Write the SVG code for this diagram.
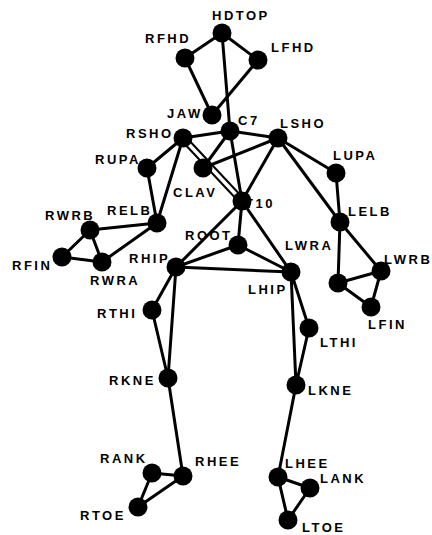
<svg xmlns="http://www.w3.org/2000/svg" width="432" height="535" viewBox="0 0 432 535">
<style>
.e line{stroke:#000;stroke-width:3;stroke-linecap:round}
.e line.thin{stroke-width:2}
.n circle{fill:#000}
text{font-family:"Liberation Sans",Arial,sans-serif;font-weight:bold;font-size:13px;letter-spacing:2.5px;fill:#000}
</style>
<rect width="432" height="535" fill="#fff"/>
<g id="connectors" class="e">
<line x1="222" y1="33" x2="185" y2="58"/>
<line x1="222" y1="33" x2="258" y2="60"/>
<line x1="185" y1="58" x2="212" y2="115"/>
<line x1="258" y1="60" x2="212" y2="115"/>
<line x1="222" y1="33" x2="230" y2="131"/>
<line x1="230" y1="131" x2="242" y2="201"/>
<line x1="230" y1="131" x2="183" y2="138"/>
<line x1="230" y1="131" x2="278" y2="138"/>
<line x1="230" y1="131" x2="203" y2="168"/>
<line x1="278" y1="138" x2="203" y2="168"/>
<line x1="183" y1="138" x2="147" y2="168"/>
<line x1="183" y1="138" x2="157" y2="223"/>
<line class="thin" x1="185" y1="136" x2="244" y2="199"/>
<line class="thin" x1="181" y1="140" x2="240" y2="203"/>
<line x1="278" y1="138" x2="242" y2="201"/>
<line x1="278" y1="138" x2="336" y2="173"/>
<line x1="278" y1="138" x2="340" y2="222"/>
<line x1="336" y1="173" x2="340" y2="222"/>
<line x1="147" y1="168" x2="157" y2="223"/>
<line x1="157" y1="223" x2="90" y2="230"/>
<line x1="157" y1="223" x2="102" y2="262"/>
<line x1="90" y1="230" x2="62" y2="257"/>
<line x1="90" y1="230" x2="102" y2="262"/>
<line x1="62" y1="257" x2="102" y2="262"/>
<line x1="340" y1="222" x2="338" y2="283"/>
<line x1="340" y1="222" x2="381" y2="271"/>
<line x1="338" y1="283" x2="381" y2="271"/>
<line x1="338" y1="283" x2="371" y2="307"/>
<line x1="381" y1="271" x2="371" y2="307"/>
<line x1="242" y1="201" x2="238" y2="245"/>
<line x1="242" y1="201" x2="176" y2="267"/>
<line x1="242" y1="201" x2="291" y2="272"/>
<line x1="238" y1="245" x2="176" y2="267"/>
<line x1="238" y1="245" x2="291" y2="272"/>
<line x1="176" y1="267" x2="291" y2="272"/>
<line x1="176" y1="267" x2="152" y2="310"/>
<line x1="176" y1="267" x2="168" y2="378"/>
<line x1="152" y1="310" x2="168" y2="378"/>
<line x1="291" y1="272" x2="309" y2="328"/>
<line x1="291" y1="272" x2="296" y2="385"/>
<line x1="309" y1="328" x2="296" y2="385"/>
<line x1="168" y1="378" x2="183" y2="476"/>
<line x1="183" y1="476" x2="152" y2="473"/>
<line x1="183" y1="476" x2="138" y2="507"/>
<line x1="152" y1="473" x2="138" y2="507"/>
<line x1="296" y1="385" x2="278" y2="477"/>
<line x1="278" y1="477" x2="310" y2="488"/>
<line x1="278" y1="477" x2="288" y2="520"/>
<line x1="310" y1="488" x2="288" y2="520"/>
</g>
<g id="HDTOP" class="n"><circle cx="222" cy="33" r="9.5"/><text x="212" y="20">HDTOP</text></g>
<g id="RFHD" class="n"><circle cx="185" cy="58" r="9.5"/><text x="145" y="43">RFHD</text></g>
<g id="LFHD" class="n"><circle cx="258" cy="60" r="9.5"/><text x="271" y="52">LFHD</text></g>
<g id="JAW" class="n"><circle cx="212" cy="115" r="9.5"/><text x="167" y="118">JAW</text></g>
<g id="C7" class="n"><circle cx="230" cy="131" r="9.5"/><text x="238" y="125">C7</text></g>
<g id="RSHO" class="n"><circle cx="183" cy="138" r="9.5"/><text x="126" y="138">RSHO</text></g>
<g id="LSHO" class="n"><circle cx="278" cy="138" r="9.5"/><text x="280" y="128">LSHO</text></g>
<g id="RUPA" class="n"><circle cx="147" cy="168" r="9.5"/><text x="95" y="164">RUPA</text></g>
<g id="CLAV" class="n"><circle cx="203" cy="168" r="9.5"/><text x="173" y="197">CLAV</text></g>
<g id="T10" class="n"><circle cx="242" cy="201" r="9.5"/><text x="245" y="208">T10</text></g>
<g id="LUPA" class="n"><circle cx="336" cy="173" r="9.5"/><text x="333" y="160">LUPA</text></g>
<g id="RELB" class="n"><circle cx="157" cy="223" r="9.5"/><text x="107" y="215">RELB</text></g>
<g id="LELB" class="n"><circle cx="340" cy="222" r="9.5"/><text x="348" y="216">LELB</text></g>
<g id="RWRB" class="n"><circle cx="90" cy="230" r="9.5"/><text x="45" y="220">RWRB</text></g>
<g id="RFIN" class="n"><circle cx="62" cy="257" r="9.5"/><text x="12" y="270">RFIN</text></g>
<g id="RWRA" class="n"><circle cx="102" cy="262" r="9.5"/><text x="90" y="285">RWRA</text></g>
<g id="ROOT" class="n"><circle cx="238" cy="245" r="9.5"/><text x="185" y="240">ROOT</text></g>
<g id="RHIP" class="n"><circle cx="176" cy="267" r="9.5"/><text x="129" y="263">RHIP</text></g>
<g id="LHIP" class="n"><circle cx="291" cy="272" r="9.5"/><text x="248" y="294">LHIP</text></g>
<g id="LWRA" class="n"><circle cx="338" cy="283" r="9.5"/><text x="285" y="250">LWRA</text></g>
<g id="LWRB" class="n"><circle cx="381" cy="271" r="9.5"/><text x="384" y="264">LWRB</text></g>
<g id="LFIN" class="n"><circle cx="371" cy="307" r="9.5"/><text x="368" y="329">LFIN</text></g>
<g id="RTHI" class="n"><circle cx="152" cy="310" r="9.5"/><text x="97" y="318">RTHI</text></g>
<g id="LTHI" class="n"><circle cx="309" cy="328" r="9.5"/><text x="320" y="347">LTHI</text></g>
<g id="RKNE" class="n"><circle cx="168" cy="378" r="9.5"/><text x="109" y="385">RKNE</text></g>
<g id="LKNE" class="n"><circle cx="296" cy="385" r="9.5"/><text x="308" y="395">LKNE</text></g>
<g id="RANK" class="n"><circle cx="152" cy="473" r="9.5"/><text x="100" y="463">RANK</text></g>
<g id="RHEE" class="n"><circle cx="183" cy="476" r="9.5"/><text x="195" y="466">RHEE</text></g>
<g id="RTOE" class="n"><circle cx="138" cy="507" r="9.5"/><text x="80" y="520">RTOE</text></g>
<g id="LHEE" class="n"><circle cx="278" cy="477" r="9.5"/><text x="285" y="468">LHEE</text></g>
<g id="LANK" class="n"><circle cx="310" cy="488" r="9.5"/><text x="320" y="483">LANK</text></g>
<g id="LTOE" class="n"><circle cx="288" cy="520" r="9.5"/><text x="302" y="532">LTOE</text></g>
</svg>
